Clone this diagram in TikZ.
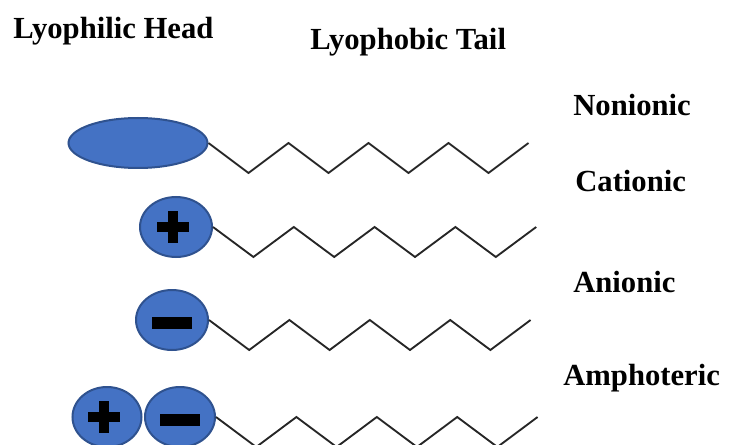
\documentclass[tikz,border=0pt]{standalone}
\usepackage{fontspec}
\setmainfont{Liberation Serif}
\usetikzlibrary{shapes.geometric}
\definecolor{headfill}{HTML}{4472C4}
\definecolor{headline}{HTML}{2F528F}

\begin{document}
\begin{tikzpicture}[x=0.75pt,y=-0.75pt,
  head/.style={draw=headline, fill=headfill, ellipse, line width=1.5pt, inner sep=0pt,
    minimum width=72*\px, minimum height=60*\px},
  cation/.style={head, path picture={
    \fill[black] ([xshift=-3*\px]path picture bounding box.center) ++(-16,-5) rectangle ++(32,10);
    \fill[black] ([xshift=-3*\px]path picture bounding box.center) ++(-5,-16) rectangle ++(10,32);}},
  anion/.style={head, path picture={
    \fill[black] ([yshift=-3*\px]path picture bounding box.center) ++(-20,-6) rectangle ++(40,12);}},
  tail/.style={draw=black!85, line width=1.4pt, line join=miter},
  title/.style={font=\bfseries\fontsize{23}{28}\selectfont, anchor=base west, inner sep=0pt}]
\def\px{0.75pt}
\def\a{30}

\useasboundingbox (0,0) rectangle (734,445);
\clip (0,0) rectangle (734,445);

% headings
\node [title, name=t1] at (13,39) {Lyophilic Head};
\node [title, name=t2] at (310,50) {Lyophobic Tail};

% surfactant types
\node [title, name=n1] at (573,116) {Nonionic};
\node [title, name=n2] at (575,192) {Cationic};
\node [title, name=n3] at (573,292) {Anionic};
\node [title, name=n4] at (563,385) {Amphoteric};

% heads
\node [head, minimum width=139*\px, minimum height=50*\px, name=h1] at (138,143) {};
\node [cation, name=h2] at (176,227) {};
\node [anion, name=h3] at (172,320) {};
\node [cation, minimum width=69*\px, name=h4a] at (107,417) {};
\node [anion, minimum width=70*\px, name=h4b] at (180,417) {};

% tails
\draw [tail] (h1.east) \foreach \i in {1,...,4} { -- ++(40,\a) -- ++(40,-\a)} coordinate (e1);
\draw [tail] (h2.east) \foreach \i in {1,...,4} { -- ++(40.4,\a) -- ++(40.4,-\a)} coordinate (e2);
\draw [tail] (h3.east) \foreach \i in {1,...,4} { -- ++(40.2,\a) -- ++(40.2,-\a)} coordinate (e3);
\draw [tail] (h4b.east) \foreach \i in {1,...,4} { -- ++(40.2,\a) -- ++(40.2,-\a)} coordinate (e4);
\end{tikzpicture}
\end{document}
